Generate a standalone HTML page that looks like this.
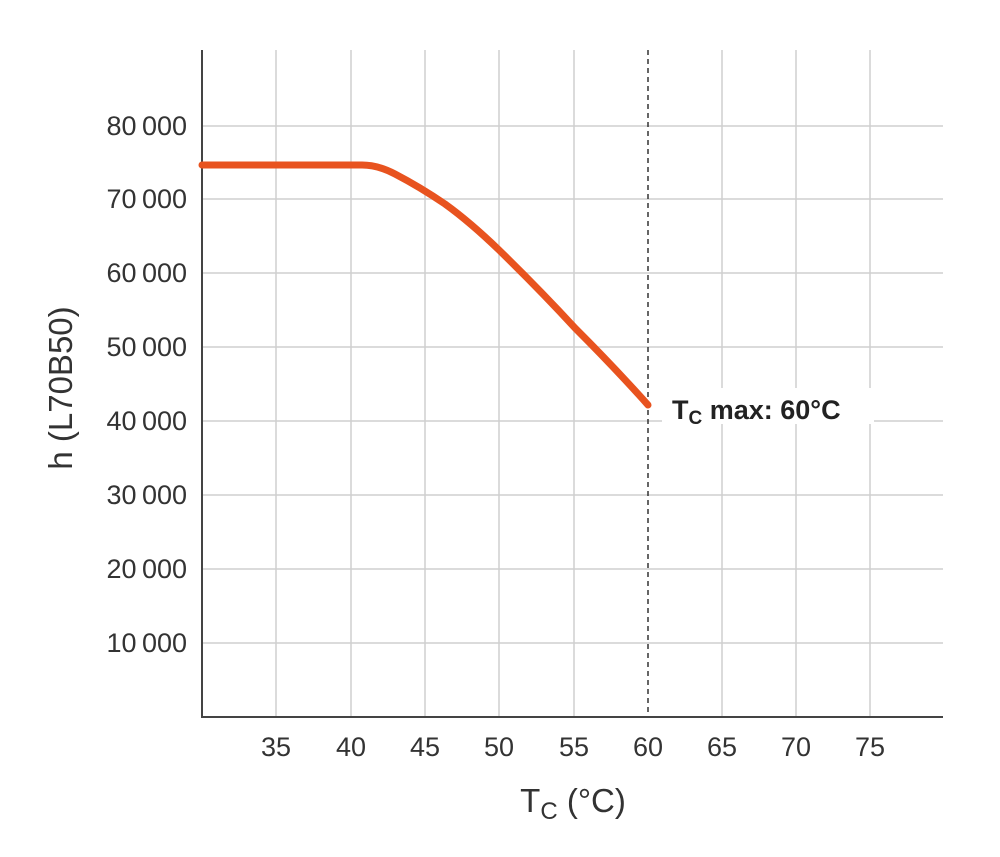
<!DOCTYPE html>
<html><head><style>body{margin:0;background:#fff}</style></head><body>
<svg width="1000" height="852" xmlns="http://www.w3.org/2000/svg" font-family="Liberation Sans, sans-serif">
<g stroke="#cfcfcf" stroke-width="1.5">
<line x1="276" y1="50" x2="276" y2="717"/><line x1="351" y1="50" x2="351" y2="717"/><line x1="425" y1="50" x2="425" y2="717"/><line x1="499" y1="50" x2="499" y2="717"/><line x1="574" y1="50" x2="574" y2="717"/><line x1="722" y1="50" x2="722" y2="717"/><line x1="796" y1="50" x2="796" y2="717"/><line x1="870" y1="50" x2="870" y2="717"/>
<line x1="202" y1="126" x2="943" y2="126"/><line x1="202" y1="199" x2="943" y2="199"/><line x1="202" y1="273" x2="943" y2="273"/><line x1="202" y1="347" x2="943" y2="347"/><line x1="202" y1="421" x2="943" y2="421"/><line x1="202" y1="495" x2="943" y2="495"/><line x1="202" y1="569" x2="943" y2="569"/><line x1="202" y1="643" x2="943" y2="643"/>
</g>
<line x1="648" y1="50" x2="648" y2="717" stroke="#333" stroke-width="1.5" stroke-dasharray="5,4"/>
<line x1="202" y1="50" x2="202" y2="718" stroke="#444" stroke-width="2"/>
<line x1="201" y1="717" x2="943" y2="717" stroke="#444" stroke-width="2"/>
<path d="M202 165 L362 165 Q378 165 395 174 Q420 187 445 204 Q470 222 499 250 Q540 290 575 328 Q615 368 648 405" fill="none" stroke="#e8531f" stroke-width="7" stroke-linecap="round"/>
<rect x="662" y="388" width="212" height="36" fill="#fff"/>
<text x="672" y="419" font-size="27" font-weight="bold" fill="#222">T<tspan font-size="19" dy="5">C</tspan><tspan dy="-5"> max: 60°C</tspan></text>
<g font-size="27" fill="#333" text-anchor="end">
<text x="187" y="135">80&#8201;000</text><text x="187" y="208">70&#8201;000</text><text x="187" y="282">60&#8201;000</text><text x="187" y="356">50&#8201;000</text><text x="187" y="430">40&#8201;000</text><text x="187" y="504">30&#8201;000</text><text x="187" y="578">20&#8201;000</text><text x="187" y="652">10&#8201;000</text>
</g>
<g font-size="27" fill="#333" text-anchor="middle">
<text x="276" y="756">35</text><text x="351" y="756">40</text><text x="425" y="756">45</text><text x="499" y="756">50</text><text x="574" y="756">55</text><text x="648" y="756">60</text><text x="722" y="756">65</text><text x="796" y="756">70</text><text x="870" y="756">75</text>
</g>
<text x="573" y="812" font-size="33" fill="#333" text-anchor="middle">T<tspan font-size="24" dy="7">C</tspan><tspan dy="-7"> (°C)</tspan></text>
<text transform="translate(72,388) rotate(-90)" font-size="33" fill="#333" text-anchor="middle">h (L70B50)</text>
</svg>
</body></html>
